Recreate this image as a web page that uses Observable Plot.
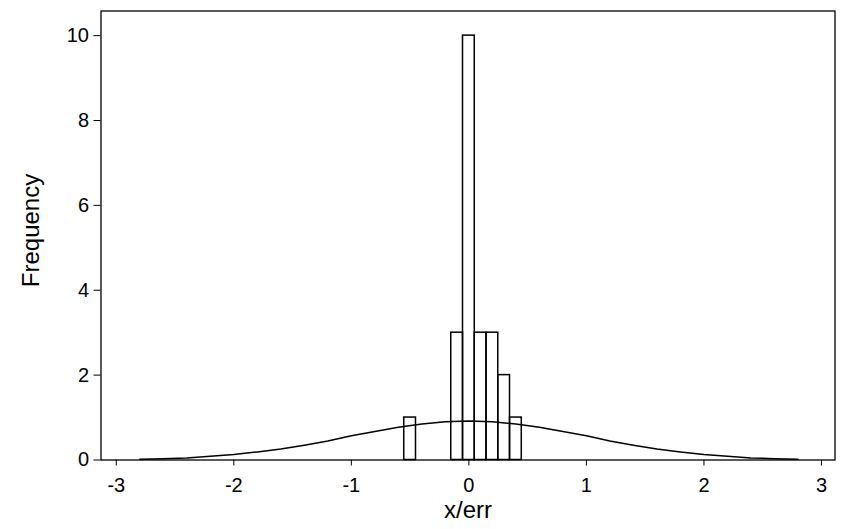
<!DOCTYPE html>
<html>
<head>
<meta charset="utf-8">
<script src="https://cdn.jsdelivr.net/npm/d3@7"></script>
<script src="https://cdn.jsdelivr.net/npm/@observablehq/plot@0.6"></script>
<style>
  html, body { margin: 0; padding: 0; background: #fff; }
  #chart svg { display: block; }
</style>
</head>
<body>
<div id="chart"></div>
<script>
// Histogram of x/err with 0.1-wide bins
const binLower = [-0.55, -0.15, -0.05, 0.05, 0.15, 0.25, 0.35];
const binUpper = [-0.45, -0.05, 0.05, 0.15, 0.25, 0.35, 0.45];
const counts   = [1, 3, 10, 3, 3, 2, 1];

// Fitted normal curve (expected frequency per bin)
const curveX = [-2.8, -2.6, -2.4, -2.2, -2.0, -1.8, -1.6, -1.4, -1.2, -1.0, -0.8, -0.6, -0.4, -0.2, 0,
                 0.2, 0.4, 0.6, 0.8, 1.0, 1.2, 1.4, 1.6, 1.8, 2.0, 2.2, 2.4, 2.6, 2.8];
const curveY = [0.02, 0.03, 0.05, 0.09, 0.13, 0.19, 0.26, 0.35, 0.45, 0.57, 0.67, 0.77, 0.85, 0.90, 0.92,
                0.90, 0.85, 0.77, 0.67, 0.57, 0.45, 0.35, 0.26, 0.19, 0.13, 0.09, 0.05, 0.03, 0.02];

const xTicks = [-3, -2, -1, 0, 1, 2, 3];
const yTicks = [0, 2, 4, 6, 8, 10];

const bins = binLower.map((lo, i) => ({x1: lo, x2: binUpper[i], count: counts[i]}));
const curve = curveX.map((x, i) => ({x, y: curveY[i]}));

const chart = Plot.plot({
  width: 842,
  height: 529,
  marginLeft: 100.5,
  marginRight: 7.5,
  marginTop: 10.5,
  marginBottom: 69.5,
  x: {domain: [-3.13, 3.115]},
  y: {domain: [0, 10.58]},
  style: {
    fontFamily: "'Liberation Sans', Arial, sans-serif",
    fontSize: "20px",
    background: "white",
    color: "black"
  },
  marks: [
    Plot.frame({stroke: "black", strokeWidth: 1.3}),
    Plot.rectY(bins, {x1: "x1", x2: "x2", y: "count", fill: "none", stroke: "black", strokeWidth: 1.5}),
    Plot.line(curve, {x: "x", y: "y", stroke: "black", strokeWidth: 1.5}),
    Plot.axisX({ticks: xTicks, tickSize: 6, tickPadding: 12, tickFormat: d => String(d), label: null, fontSize: 20}),
    Plot.axisY({ticks: yTicks, tickSize: 7, tickPadding: 5, tickFormat: d => String(d), label: null, fontSize: 20}),
    Plot.text(["x/err"], {frameAnchor: "bottom", lineAnchor: "middle", textAnchor: "middle", dy: 50, fontSize: 24, text: d => d}),
    Plot.text(["Frequency"], {frameAnchor: "left", lineAnchor: "middle", textAnchor: "middle", dx: -70, dy: -5, rotate: -90, fontSize: 24, text: d => d})
  ]
});

document.getElementById("chart").appendChild(chart);
</script>
</body>
</html>
